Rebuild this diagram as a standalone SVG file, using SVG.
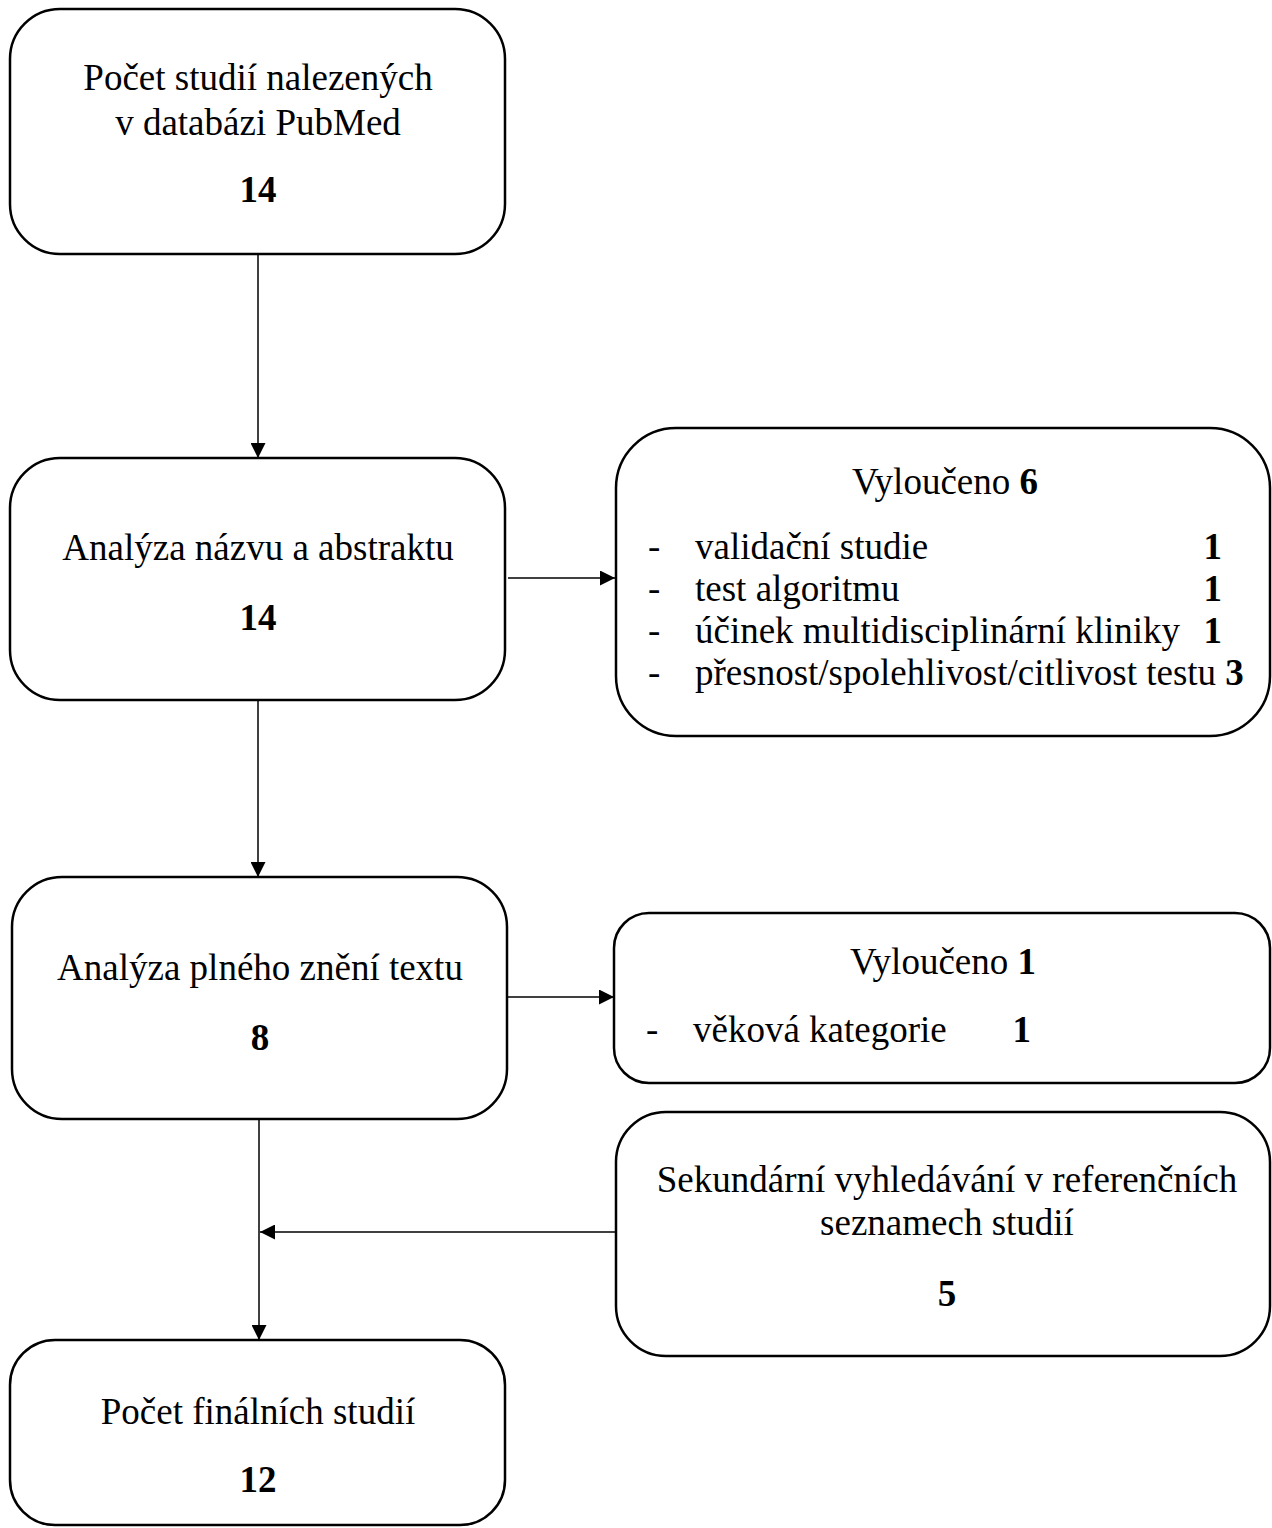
<svg xmlns="http://www.w3.org/2000/svg" width="1272" height="1528" viewBox="0 0 1272 1528">
<style>
.box{fill:#fff;stroke:#000;stroke-width:2.5}
.t{font-family:"Liberation Serif","Times New Roman",serif;font-size:37px;fill:#000}
.c{text-anchor:middle}
.b{font-weight:bold}
.e{text-anchor:end}
.ln{stroke:#000;stroke-width:1.5;fill:none}
</style>
<defs>
<marker id="ah" markerWidth="15" markerHeight="15" refX="15" refY="7.5" orient="auto" markerUnits="userSpaceOnUse">
<path d="M0,0 L15,7.5 L0,15 Z" fill="#000"/>
</marker>
</defs>
<rect width="1272" height="1528" fill="#fff"/>
<g id="connectors">
<line class="ln" x1="258" y1="254" x2="258" y2="458" marker-end="url(#ah)"/>
<line class="ln" x1="508" y1="578" x2="615" y2="578" marker-end="url(#ah)"/>
<line class="ln" x1="258" y1="700" x2="258" y2="877" marker-end="url(#ah)"/>
<line class="ln" x1="508" y1="997" x2="614" y2="997" marker-end="url(#ah)"/>
<line class="ln" x1="259" y1="1119" x2="259" y2="1340" marker-end="url(#ah)"/>
<line class="ln" x1="618" y1="1232" x2="260" y2="1232" marker-end="url(#ah)"/>
</g>
<g id="n1">
<rect class="box" x="10" y="9" width="495" height="245" rx="50"/>
<text class="t c" x="258" y="90">Počet studií nalezených</text>
<text class="t c" x="258" y="135">v databázi PubMed</text>
<text class="t c b" x="258" y="202">14</text>
</g>
<g id="n2">
<rect class="box" x="10" y="458" width="495" height="242" rx="50"/>
<text class="t c" x="258" y="560">Analýza názvu a abstraktu</text>
<text class="t c b" x="258" y="630">14</text>
</g>
<g id="n3">
<rect class="box" x="616" y="428" width="654" height="308" rx="60"/>
<text class="t c" x="945" y="494">Vyloučeno <tspan class="b">6</tspan></text>
<text class="t" x="648" y="559">-</text>
<text class="t" x="695" y="559">validační studie</text>
<text class="t e b" x="1222" y="559">1</text>
<text class="t" x="648" y="601">-</text>
<text class="t" x="695" y="601">test algoritmu</text>
<text class="t e b" x="1222" y="601">1</text>
<text class="t" x="648" y="643">-</text>
<text class="t" x="695" y="643">účinek multidisciplinární kliniky</text>
<text class="t e b" x="1222" y="643">1</text>
<text class="t" x="648" y="685">-</text>
<text class="t" x="695" y="685">přesnost/spolehlivost/citlivost testu <tspan class="b">3</tspan></text>
</g>
<g id="n4">
<rect class="box" x="12" y="877" width="495" height="242" rx="50"/>
<text class="t c" x="260" y="980">Analýza plného znění textu</text>
<text class="t c b" x="260" y="1050">8</text>
</g>
<g id="n5">
<rect class="box" x="614" y="913" width="656" height="170" rx="35"/>
<text class="t c" x="943" y="974">Vyloučeno <tspan class="b">1</tspan></text>
<text class="t" x="646" y="1042">-</text>
<text class="t" x="693" y="1042">věková kategorie</text>
<text class="t e b" x="1031" y="1042">1</text>
</g>
<g id="n6">
<rect class="box" x="616" y="1112" width="654" height="244" rx="50"/>
<text class="t c" x="947" y="1192">Sekundární vyhledávání v referenčních</text>
<text class="t c" x="947" y="1235">seznamech studií</text>
<text class="t c b" x="947" y="1306">5</text>
</g>
<g id="n7">
<rect class="box" x="10" y="1340" width="495" height="185" rx="45"/>
<text class="t c" x="258" y="1424">Počet finálních studií</text>
<text class="t c b" x="258" y="1492">12</text>
</g>
</svg>
